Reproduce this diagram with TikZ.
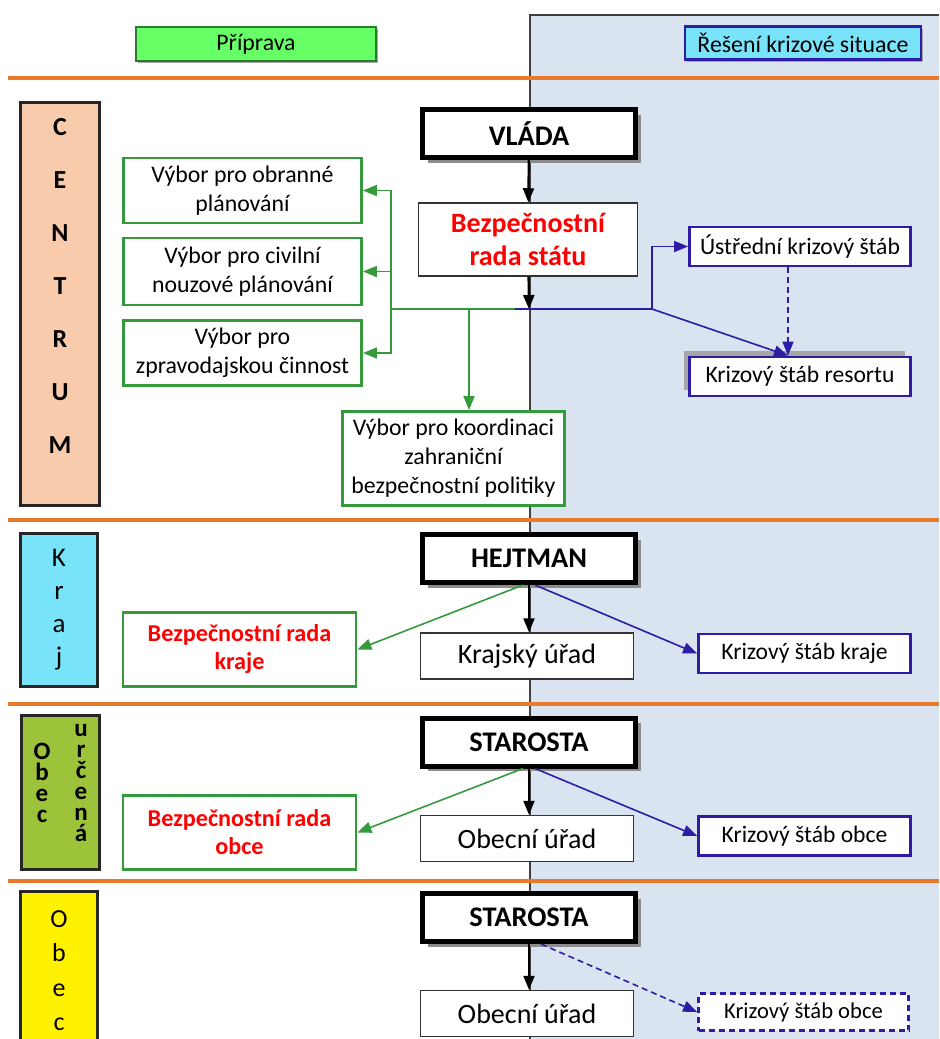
\documentclass[tikz,border=0pt]{standalone}
\usepackage{fontspec}
\setmainfont{Carlito}
\usetikzlibrary{calc,positioning,arrows.meta,shadows}
\definecolor{orng}{HTML}{E97A2B}
\definecolor{paneblue}{HTML}{DAE3F0}
\definecolor{peach}{HTML}{F8CBAD}
\definecolor{skyc}{HTML}{79E3F9}
\definecolor{olivegrn}{HTML}{9DC33B}
\definecolor{lime}{HTML}{66FF66}
\definecolor{grn}{HTML}{349A3C}
\definecolor{blu}{HTML}{2C1CA6}
\definecolor{redt}{HTML}{FF0000}
\newcommand\tightlines{\lineskiplimit=-100pt\relax}

\tikzset{
  lvlbox/.style={draw=black!85,line width=1.5pt,inner sep=0pt},
  lvltxt/.style={inner sep=0pt,anchor=north,align=center},
  chief/.style={draw=black,line width=2.5pt,fill=white,minimum width=106.5pt,minimum height=24pt,
    font=\bfseries\fontsize{14.2}{16}\selectfont,
    drop shadow={shadow xshift=2.5pt,shadow yshift=-2.5pt,fill=black!45,opacity=1}},
  office/.style={draw=black!80,line width=0.75pt,fill=white,minimum width=106.5pt,minimum height=23pt,
    font=\fontsize{14}{16}\selectfont},
  cmte/.style={draw=grn,line width=1.4pt,fill=white,minimum width=119pt,align=center,inner sep=2pt,
    font=\fontsize{11.9}{14.5}\selectfont},
  staff/.style={draw=blu,line width=1.4pt,fill=white,minimum width=110.5pt,minimum height=19.5pt,
    inner sep=1pt,font=\fontsize{11.8}{14}\selectfont},
  blkarr/.style={line width=1.1pt,-{Triangle[length=7pt,width=5.5pt]}},
  grnarr/.style={grn,line width=0.8pt,-{Triangle[length=7pt,width=5.5pt]}},
  bluarr/.style={blu,line width=0.8pt,-{Triangle[length=7pt,width=5.5pt]}},
}

\begin{document}
\begin{tikzpicture}[x=0.5pt,y=-0.5pt]
\useasboundingbox (0,0) rectangle (939,1039);
\clip (0,0) rectangle (939,1039);

% right half (reseni)
\fill[paneblue] (530,15) rectangle (939,1039);
\draw[black!75,line width=0.8pt] (530,1039) -- (530,15) -- (939,15);
\foreach \yy in {78,520,704,881}
  \draw[orng,line width=1.6pt] (8,\yy) -- (939,\yy);

% headers
\node[draw=grn!80!black,fill=lime,line width=0.6pt,minimum width=120pt,minimum height=17pt,
  font=\fontsize{11.9}{14}\selectfont,
  drop shadow={shadow xshift=1pt,shadow yshift=-1pt,fill=black!35,opacity=1}] (prep) at (256,44) {Příprava};
\node[draw=blu,fill=skyc,line width=1.3pt,minimum width=118pt,minimum height=16.5pt,
  font=\fontsize{11.9}{14}\selectfont,
  drop shadow={shadow xshift=1pt,shadow yshift=-1pt,fill=black!35,opacity=1}] (solve) at (803,43) {Řešení krizové situace};

% level labels
\node[lvlbox,fill=peach,minimum width=39.5pt,minimum height=201.5pt] (centrum) at (60,304) {};
\node[lvltxt,font=\bfseries\fontsize{13}{26.5}\selectfont] (centrumtxt) at (60,118) {C\\E\\N\\T\\R\\U\\M};
\node[lvlbox,fill=skyc,minimum width=38.5pt,minimum height=76.5pt] (kraj) at (59,610) {};
\node[lvltxt,font=\fontsize{13.5}{16.5}\selectfont] (krajtxt) at (59,549) {K\\r\\a\\j};
\node[lvlbox,fill=olivegrn,minimum width=39pt,minimum height=77pt] (obecurc) at (60,792.5) {};
\node[lvltxt,font=\bfseries\fontsize{12.5}{10.5}\selectfont\tightlines] (obectxt) at (42,743) {O\\b\\e\\c};
\node[lvltxt,font=\bfseries\fontsize{12.5}{10.5}\selectfont\tightlines] (urctxt) at (81,724) {u\\r\\č\\e\\n\\á};
\node[lvlbox,fill=yellow,minimum width=38.5pt,minimum height=90pt] (obec) at (59,981) {};
\node[lvltxt,font=\fontsize{13}{17.25}\selectfont] (obectxtb) at (59,910) {O\\b\\e\\c};

% centrum
\node[chief] (vlada) at (529,133.5) {VLÁDA};
\node[office,minimum width=109.5pt,minimum height=36.5pt,align=center,text=redt,
  font=\bfseries\fontsize{14}{16.5}\selectfont] (brs) at (528,239.5) {Bezpečnostní\\rada státu};
\node[cmte,minimum height=32.5pt] (vobrana) at (242.5,190.5) {Výbor pro obranné\\plánování};
\node[cmte,minimum height=33.5pt] (vcivil) at (242.5,271.5) {Výbor pro civilní\\nouzové plánování};
\node[cmte,minimum height=32.5pt] (vzprav) at (242.5,353) {Výbor pro\\zpravodajskou činnost};
\node[cmte,minimum width=111pt,minimum height=47pt] (vkoord) at (453.5,458.5) {Výbor pro koordinaci\\zahraniční\\bezpečnostní politiky};
\node[staff] (ustredni) at (800,246.5) {Ústřední krizový štáb};
\node[staff,drop shadow={shadow xshift=-3pt,shadow yshift=3pt,fill=black!35,opacity=1}] (resort) at (800,376.5) {Krizový štáb resortu};

\coordinate (jc) at (529,309);
\coordinate (gsplit) at (391,309);
\coordinate (gdrop) at (469,309);
\coordinate (bsplit) at (652,309);
\coordinate (rtop) at ($(resort.north)+(-12,0)$);

\draw[blkarr] (vlada) -- (brs);
\draw[blkarr] (brs) -- (jc);
\draw[grn,line width=0.8pt] (jc) -- (gsplit);
\draw[grnarr] (gsplit) |- (vobrana.east);
\draw[grnarr] (gsplit) |- (vcivil.east);
\draw[grnarr] (gsplit) |- (vzprav.east);
\draw[grnarr] (gdrop) -- (gdrop |- vkoord.north);
\draw[blu,line width=0.8pt] ([xshift=-7pt]jc) -- (bsplit);
\draw[bluarr] (bsplit) |- (ustredni.west);
\draw[bluarr] (bsplit) -- (rtop);
\draw[bluarr,dash pattern=on 3pt off 2pt] (ustredni.south -| rtop) -- (rtop);

% kraj
\node[chief] (hejtman) at (529,558.5) {HEJTMAN};
\node[office] (krurad) at (527,656) {Krajský úřad};
\node[cmte,minimum width=116.5pt,minimum height=37pt,text=redt,
  font=\bfseries\fontsize{12.1}{14}\selectfont] (brkraj) at (239.5,649.5) {Bezpečnostní rada\\kraje};
\node[staff,minimum width=106pt] (kskraj) at (804.5,653.5) {Krizový štáb kraje};
\draw[blkarr] (hejtman.south) -- (hejtman.south |- krurad.north);
\draw[grnarr] ([xshift=-3pt]hejtman.south) -- (brkraj.east);
\draw[bluarr] ([xshift=3pt]hejtman.south) -- (kskraj.west);

% obec urcena
\node[chief] (starosta) at (529,742) {STAROSTA};
\node[office] (ouradurc) at (527,838.5) {Obecní úřad};
\node[cmte,minimum width=116.5pt,minimum height=37pt,text=redt,
  font=\bfseries\fontsize{12.1}{14}\selectfont] (brobce) at (239.5,832.5) {Bezpečnostní rada\\obce};
\node[staff,minimum width=106pt] (ksurc) at (804.5,836) {Krizový štáb obce};
\draw[blkarr] (starosta.south) -- (starosta.south |- ouradurc.north);
\draw[grnarr] ([xshift=-3pt]starosta.south) -- (brobce.east);
\draw[bluarr] ([xshift=3pt]starosta.south) -- (ksurc.west);

% obec
\node[chief] (starostab) at (529,917.5) {STAROSTA};
\node[office] (ouradobec) at (527,1013.5) {Obecní úřad};
\node[staff,dash pattern=on 3pt off 2pt,minimum width=105pt,minimum height=18.5pt,
  font=\fontsize{11.3}{13}\selectfont] (ksobce) at (803.5,1012) {Krizový štáb obce};
\draw[blkarr] (starostab.south) -- (starostab.south |- ouradobec.north);
\draw[bluarr,dash pattern=on 3pt off 2pt] ([xshift=6pt]starostab.south) -- (ksobce.west);
\end{tikzpicture}
\end{document}
